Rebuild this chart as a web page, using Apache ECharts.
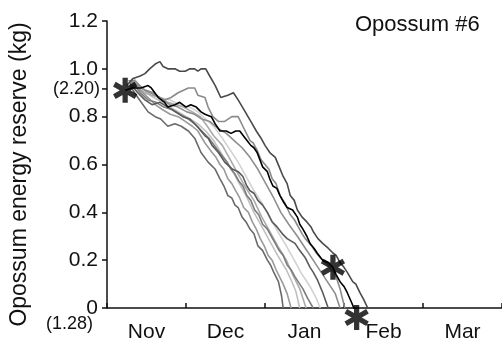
<!DOCTYPE html>
<html><head><meta charset="utf-8">
<script src="https://cdn.jsdelivr.net/npm/echarts@6.0.0/dist/echarts.min.js"></script>
<style>html,body{margin:0;padding:0;background:#fff}#c{width:502px;height:348px}</style>
</head><body><div id="c"></div><script>
// x: months since 1 Nov, y: energy reserve (kg)
const monthLabels = ['Nov', 'Dec', 'Jan', 'Feb', 'Mar'];
const yTickValues = [0, 0.2, 0.4, 0.6, 0.8, 1.0, 1.2];
const titleText = 'Opossum #6';
const yAxisTitle = 'Opossum energy reserve (kg)';
const extraYLabels = [{ value: 0.916, text: '(2.20)', tick: true }, { value: -0.069, text: '(1.28)', tick: false }];

const trackOuter = [[0.25,0.93],[0.33,0.96],[0.42,0.97],[0.48,0.98],[0.54,1.00],[0.61,1.02],[0.67,1.03],[0.71,1.01],[0.77,1.00],[0.86,1.00],[0.92,0.99],[0.99,0.99],[1.05,1.00],[1.11,1.00],[1.15,0.99],[1.19,1.00],[1.25,1.00],[1.30,0.97],[1.37,0.93],[1.44,0.88],[1.53,0.89],[1.60,0.90],[1.66,0.87],[1.75,0.82],[1.82,0.78],[1.89,0.74],[1.95,0.71],[2.00,0.68],[2.06,0.65],[2.13,0.63],[2.18,0.59],[2.23,0.55],[2.28,0.52],[2.32,0.47],[2.37,0.45],[2.41,0.41],[2.47,0.38],[2.53,0.36],[2.58,0.34],[2.61,0.32],[2.67,0.29],[2.73,0.27],[2.80,0.25],[2.86,0.23],[2.90,0.22],[2.95,0.19],[3.00,0.17],[3.04,0.15],[3.11,0.11],[3.15,0.10],[3.20,0.065],[3.25,0.035],[3.30,0.0]];
const trackBlack = [[0.23,0.91],[0.32,0.92],[0.43,0.92],[0.52,0.93],[0.56,0.92],[0.65,0.88],[0.73,0.86],[0.77,0.84],[0.86,0.85],[0.92,0.86],[1.00,0.84],[1.06,0.85],[1.13,0.84],[1.19,0.82],[1.24,0.81],[1.32,0.80],[1.37,0.77],[1.43,0.74],[1.51,0.74],[1.57,0.73],[1.63,0.74],[1.68,0.74],[1.75,0.71],[1.82,0.68],[1.86,0.67],[1.90,0.65],[1.97,0.59],[2.03,0.57],[2.06,0.54],[2.10,0.51],[2.15,0.50],[2.19,0.47],[2.24,0.44],[2.28,0.42],[2.35,0.41],[2.41,0.38],[2.44,0.35],[2.48,0.33],[2.53,0.30],[2.57,0.27],[2.62,0.25],[2.66,0.23],[2.73,0.20],[2.80,0.19],[2.86,0.17],[2.90,0.14],[2.95,0.11],[3.00,0.09],[3.04,0.065],[3.10,0.02],[3.15,-0.02]];
const trackA = [[0.27,0.95],[0.35,0.95],[0.48,0.91],[0.61,0.89],[0.73,0.87],[0.81,0.88],[0.90,0.90],[1.03,0.92],[1.11,0.92],[1.15,0.89],[1.24,0.88],[1.28,0.84],[1.34,0.80],[1.41,0.78],[1.49,0.78],[1.58,0.80],[1.66,0.80],[1.72,0.76],[1.81,0.70],[1.85,0.69],[1.90,0.66],[1.95,0.62],[2.00,0.60],[2.05,0.58],[2.09,0.54],[2.14,0.52],[2.19,0.47],[2.25,0.44],[2.32,0.39],[2.37,0.37],[2.42,0.34],[2.47,0.31],[2.51,0.29],[2.59,0.26],[2.65,0.23],[2.70,0.21],[2.80,0.18],[2.89,0.14],[2.95,0.08],[3.01,0.0]];
const trackB = [[0.29,0.94],[0.39,0.90],[0.48,0.87],[0.57,0.85],[0.67,0.86],[0.77,0.84],[0.87,0.82],[0.96,0.80],[1.05,0.79],[1.14,0.76],[1.24,0.72],[1.28,0.71],[1.33,0.68],[1.41,0.65],[1.49,0.61],[1.59,0.58],[1.66,0.57],[1.72,0.55],[1.77,0.51],[1.81,0.49],[1.86,0.48],[1.91,0.45],[1.97,0.43],[2.03,0.40],[2.09,0.36],[2.15,0.34],[2.22,0.31],[2.28,0.29],[2.38,0.27],[2.44,0.24],[2.51,0.21],[2.57,0.17],[2.61,0.15],[2.66,0.12],[2.73,0.065],[2.80,0.0]];
const trackC = [[0.29,0.93],[0.39,0.88],[0.52,0.82],[0.61,0.80],[0.68,0.79],[0.77,0.76],[0.86,0.77],[0.94,0.76],[1.03,0.74],[1.11,0.71],[1.19,0.65],[1.28,0.61],[1.37,0.58],[1.43,0.54],[1.48,0.51],[1.53,0.47],[1.58,0.46],[1.62,0.43],[1.66,0.42],[1.71,0.38],[1.76,0.36],[1.81,0.33],[1.86,0.31],[1.91,0.26],[1.97,0.24],[2.03,0.20],[2.07,0.18],[2.11,0.15],[2.17,0.11],[2.21,0.05],[2.23,0.0]];
const trackD = [[0.32,0.95],[0.42,0.91],[0.52,0.88],[0.61,0.85],[0.70,0.83],[0.80,0.81],[0.90,0.80],[0.99,0.78],[1.08,0.76],[1.15,0.74],[1.24,0.69],[1.33,0.65],[1.38,0.63],[1.43,0.60],[1.48,0.58],[1.53,0.54],[1.58,0.52],[1.63,0.49],[1.68,0.46],[1.73,0.42],[1.79,0.40],[1.84,0.36],[1.89,0.33],[1.94,0.29],[1.99,0.26],[2.04,0.22],[2.09,0.20],[2.14,0.16],[2.23,0.10],[2.28,0.06],[2.33,0.0]];
const trackE = [[0.34,0.96],[0.44,0.92],[0.54,0.89],[0.65,0.87],[0.75,0.85],[0.85,0.83],[0.95,0.81],[1.05,0.79],[1.15,0.77],[1.25,0.74],[1.35,0.70],[1.46,0.64],[1.56,0.59],[1.66,0.53],[1.76,0.47],[1.86,0.40],[1.96,0.34],[2.06,0.28],[2.16,0.22],[2.27,0.16],[2.34,0.11],[2.39,0.07],[2.44,0.0]];
const trackF = [[0.29,0.95],[0.37,0.93],[0.47,0.90],[0.57,0.89],[0.67,0.88],[0.77,0.86],[0.87,0.85],[0.97,0.84],[1.08,0.82],[1.18,0.80],[1.27,0.76],[1.35,0.72],[1.46,0.68],[1.56,0.62],[1.66,0.56],[1.76,0.50],[1.86,0.45],[1.96,0.38],[2.06,0.32],[2.16,0.26],[2.27,0.20],[2.35,0.14],[2.44,0.08],[2.52,0.0]];
const trackG = [[0.33,0.94],[0.42,0.90],[0.52,0.87],[0.62,0.86],[0.72,0.84],[0.82,0.83],[0.92,0.81],[1.03,0.79],[1.11,0.77],[1.20,0.74],[1.29,0.71],[1.38,0.67],[1.47,0.63],[1.52,0.61],[1.57,0.58],[1.62,0.56],[1.67,0.53],[1.72,0.51],[1.77,0.47],[1.82,0.45],[1.87,0.41],[1.92,0.39],[1.97,0.35],[2.03,0.33],[2.08,0.30],[2.13,0.27],[2.18,0.24],[2.23,0.22],[2.28,0.18],[2.33,0.16],[2.38,0.13],[2.48,0.08],[2.54,0.04],[2.61,0.0]];
const trackH = [[0.30,0.94],[0.42,0.91],[0.54,0.90],[0.67,0.88],[0.80,0.87],[0.92,0.85],[1.05,0.84],[1.15,0.82],[1.25,0.79],[1.35,0.76],[1.46,0.71],[1.56,0.66],[1.66,0.61],[1.76,0.55],[1.86,0.49],[1.96,0.44],[2.06,0.38],[2.16,0.32],[2.27,0.26],[2.37,0.20],[2.47,0.14],[2.57,0.09],[2.65,0.04],[2.70,0.0]];
const trackI = [[0.28,0.95],[0.39,0.93],[0.49,0.91],[0.59,0.90],[0.70,0.87],[0.80,0.85],[0.90,0.84],[1.01,0.82],[1.11,0.81],[1.20,0.79],[1.30,0.78],[1.41,0.75],[1.51,0.73],[1.61,0.70],[1.71,0.67],[1.81,0.63],[1.91,0.58],[2.01,0.52],[2.11,0.46],[2.20,0.40],[2.30,0.35],[2.41,0.30],[2.51,0.25],[2.61,0.20],[2.71,0.15],[2.81,0.10],[2.89,0.06],[2.95,0.0]];
const starPoints = [[0.23,0.91],[2.86,0.17],[3.16,-0.04]];

const tracks = [
  { data: trackH, color: '#d2d2d2' },
  { data: trackE, color: '#c0c0c0' },
  { data: trackF, color: '#ababab' },
  { data: trackD, color: '#9a9a9a' },
  { data: trackG, color: '#7c7c7c' },
  { data: trackI, color: '#8e8e8e' },
  { data: trackC, color: '#6a6a6a' },
  { data: trackB, color: '#5a5a5a' },
  { data: trackA, color: '#8a8a8a' },
  { data: trackOuter, color: '#4a4a4a' },
  { data: trackBlack, color: '#000000' }
];

const FONT = "'Liberation Sans', Arial, sans-serif";
const STAR = 'path://M-2.1,-10L2.1,-10L2.1,10L-2.1,10Z M-7.61,-6.82L9.71,3.18L7.61,6.82L-9.71,-3.18Z M9.71,-3.18L-7.61,6.82L-9.71,3.18L7.61,-6.82Z';

const chart = echarts.init(document.getElementById('c'), null, { renderer: 'canvas' });
const series = tracks.map(t => ({
  type: 'line', data: t.data, xAxisIndex: 0, yAxisIndex: 0,
  symbol: 'none', smooth: false, silent: true,
  lineStyle: { color: t.color, width: 1.6 }
}));
series.push({
  type: 'scatter', data: starPoints, xAxisIndex: 0, yAxisIndex: 0,
  symbol: STAR, symbolSize: 25, symbolKeepAspect: true, clip: false, silent: true,
  itemStyle: { color: '#000' }, z: 10
});

chart.setOption({
  animation: false,
  backgroundColor: '#fff',
  title: { text: titleText, left: 350, top: 9, textStyle: { fontFamily: FONT, fontSize: 22, fontWeight: 'normal', color: '#111' } },
  grid: { left: 107, right: 0, top: 21, bottom: 40 },
  xAxis: [
    { type: 'value', min: 0, max: 5, interval: 1, position: 'bottom',
      axisLine: { show: true, onZero: false, lineStyle: { color: '#111', width: 1.5 } },
      axisTick: { show: true, inside: true, length: 5, lineStyle: { color: '#111', width: 1.5 } },
      axisLabel: { show: false }, splitLine: { show: false } },
    { type: 'category', data: monthLabels, position: 'bottom', boundaryGap: true,
      axisLine: { show: false }, axisTick: { show: false }, splitLine: { show: false },
      axisLabel: { show: true, margin: 14, fontFamily: FONT, fontSize: 21, color: '#111' } }
  ],
  yAxis: {
    type: 'value', min: 0, max: 1.2, interval: 0.2,
    name: yAxisTitle, nameLocation: 'middle', nameGap: 76,
    nameTextStyle: { fontFamily: FONT, fontSize: 23, color: '#111', padding: [0, 20, 0, 0] },
    axisLine: { show: true, lineStyle: { color: '#111', width: 1.5 } },
    axisTick: { show: true, inside: false, length: 5, lineStyle: { color: '#111', width: 1.5 } },
    axisLabel: { margin: 9, fontFamily: FONT, fontSize: 21, color: '#111',
      formatter: v => (yTickValues.indexOf(v) >= 0 && v === 0) ? '0' : v.toFixed(1) },
    splitLine: { show: false }
  },
  series: series
});

const graphics = [];
extraYLabels.forEach(e => {
  const p = chart.convertToPixel({ gridIndex: 0 }, [0, e.value]);
  graphics.push({ type: 'text', x: p[0] - (e.tick ? 7 : 14), y: p[1], silent: true,
    style: { text: e.text, align: 'right', verticalAlign: 'middle', fontFamily: FONT, fontSize: 18, fill: '#111' } });
  if (e.tick) {
    graphics.push({ type: 'line', silent: true, shape: { x1: p[0] - 5, y1: p[1], x2: p[0], y2: p[1] },
      style: { stroke: '#111', lineWidth: 1.5 } });
  }
});
chart.setOption({ graphic: graphics });
</script></body></html>
